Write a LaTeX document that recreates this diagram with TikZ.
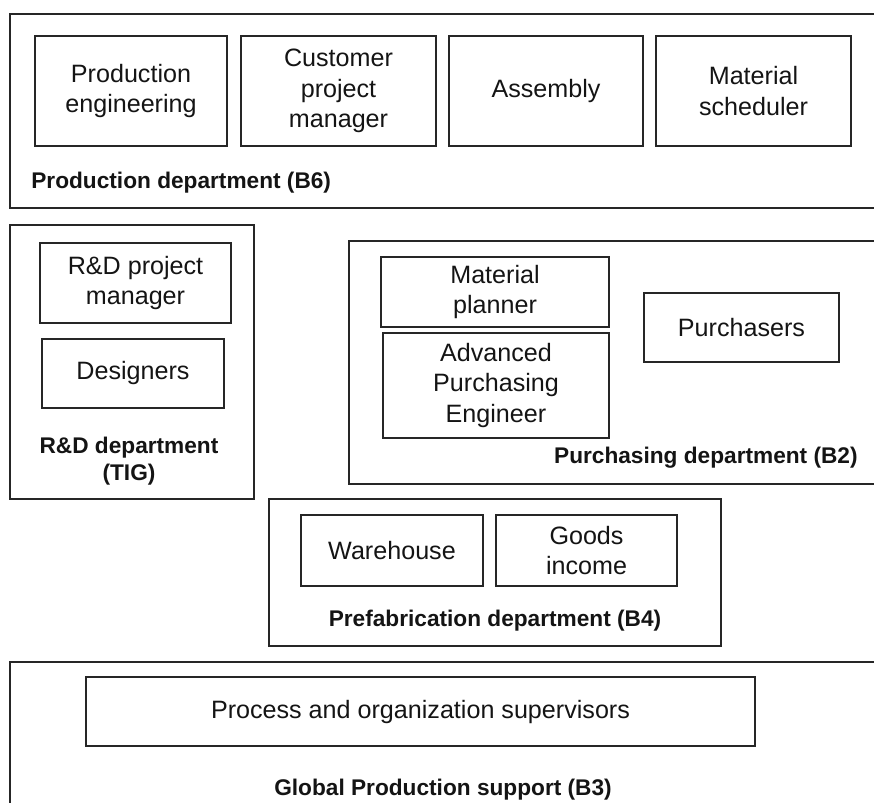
\documentclass[tikz,border=0pt]{standalone}
\usepackage{fontspec}
\setmainfont{Liberation Sans}
\usetikzlibrary{positioning}
\definecolor{orgline}{HTML}{262626}
\definecolor{orgtext}{HTML}{141414}

\begin{document}
\begin{tikzpicture}[
    x=0.02cm, y=-0.02cm,
    unit/.style 2 args={rectangle, draw=orgline, line width=1.1pt, inner sep=0pt, minimum width=#1, minimum height=#2, align=center, text=orgtext, font=\fontsize{14.3}{17.2}\selectfont},
    dept/.style 2 args={rectangle, draw=orgline, line width=1.1pt, inner sep=0pt, minimum width=#1, minimum height=#2},
    deptlabel/.style={inner sep=0pt, align=center, text=orgtext, font=\fontsize{12.9}{15.3}\selectfont\bfseries}
]
\useasboundingbox (0,0) rectangle (874,803);
\clip (0,0) rectangle (874,803);

% Production department
\node[dept={17.48cm}{3.88cm}] (b6) at (447,111) {};
\node[unit={3.84cm}{2.2cm}] (pe) at (131,91) {Production\\engineering};
\node[unit={3.9cm}{2.2cm}] (cpm) at (338.5,91) {Customer\\project\\manager};
\node[unit={3.88cm}{2.2cm}] (asm) at (546,91) {Assembly};
\node[unit={3.9cm}{2.2cm}] (msch) at (753.5,91) {Material\\scheduler};
\node[deptlabel, anchor=west] (b6lab) at (31,183) {Production department (B6)};

% R&D department
\node[dept={4.88cm}{5.48cm}] (tig) at (132,362) {};
\node[unit={3.82cm}{1.6cm}] (rdpm) at (135.5,283) {R\&D project\\manager};
\node[unit={3.64cm}{1.38cm}] (des) at (133,373.5) {Designers};
\node[deptlabel] (tiglab) at (129,461.5) {R\&D department\\(TIG)};

% Purchasing department
\node[dept={10.7cm}{4.86cm}] (b2) at (616.5,362.5) {};
\node[unit={4.56cm}{1.4cm}] (mp) at (495,292) {Material\\planner};
\node[unit={4.52cm}{2.1cm}] (ape) at (496,385.5) {Advanced\\Purchasing\\Engineer};
\node[unit={3.9cm}{1.38cm}] (pur) at (741.5,327.5) {Purchasers};
\node[deptlabel, anchor=east] (b2lab) at (858,458) {Purchasing department (B2)};

% Prefabrication department
\node[dept={9.04cm}{2.94cm}] (b4) at (495,572.5) {};
\node[unit={3.64cm}{1.42cm}] (wh) at (392,550.5) {Warehouse};
\node[unit={3.62cm}{1.42cm}] (gi) at (586.5,550.5) {Goods\\income};
\node[deptlabel] (b4lab) at (495,621) {Prefabrication department (B4)};

% Global Production support
\node[dept={17.48cm}{3.02cm}] (b3) at (447,737.5) {};
\node[unit={13.38cm}{1.38cm}] (pos) at (420.5,711.5) {Process and organization supervisors};
\node[deptlabel] (b3lab) at (443,790) {Global Production support (B3)};

\end{tikzpicture}
\end{document}
